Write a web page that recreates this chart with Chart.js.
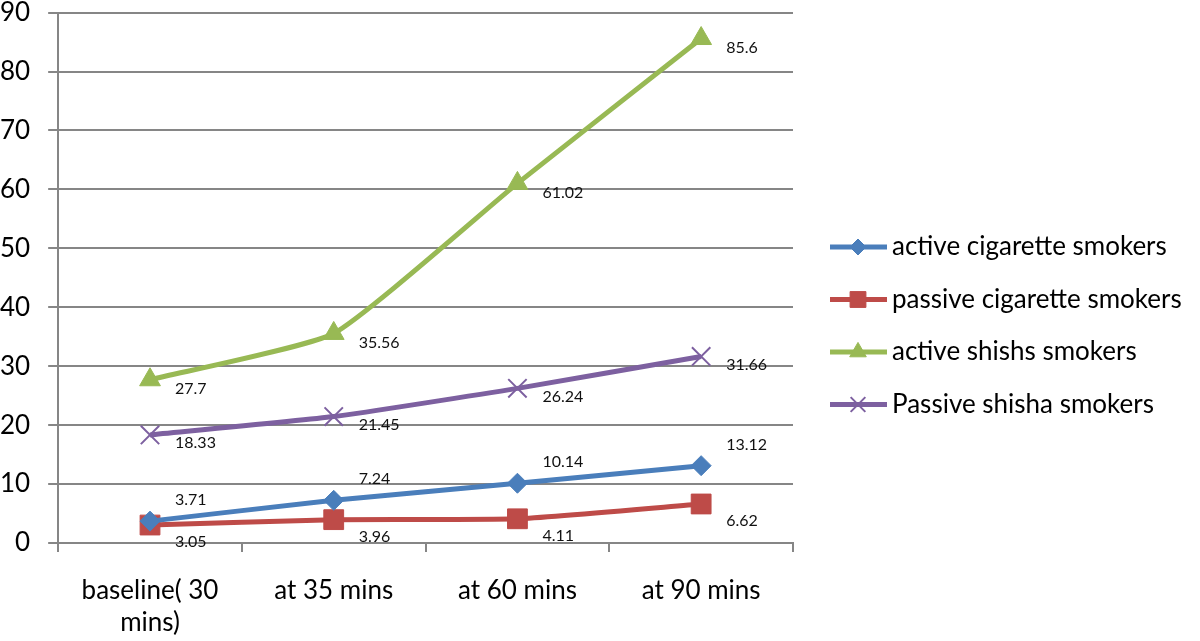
<!DOCTYPE html>
<html>
<head>
<meta charset="utf-8">
<script src="https://cdn.jsdelivr.net/npm/chart.js@4.4.1/dist/chart.umd.min.js"></script>
<style>
  html, body { margin: 0; padding: 0; background: #fff; overflow: hidden; }
  #janela { width: 1200px; height: 641px; position: relative; overflow: hidden; }
  #wrap { position: absolute; left: -18px; top: -21px; width: 1218px; height: 684px; }
</style>
</head>
<body>
<div id="janela"><div id="wrap"><canvas id="grafico"></canvas></div></div>
<script>
const categorias = [['baseline( 30', 'mins)'], 'at 35 mins', 'at 60 mins', 'at 90 mins'];
const ativosCigarro = [3.71, 7.24, 10.14, 13.12];
const passivosCigarro = [3.05, 3.96, 4.11, 6.62];
const ativosShisha = [27.7, 35.56, 61.02, 85.6];
const passivosShisha = [18.33, 21.45, 26.24, 31.66];
const nomesSeries = ['active cigarette smokers', 'passive cigarette smokers', 'active shishs smokers', 'Passive shisha smokers'];

const fonte = 'Lato, "Open Sans", sans-serif';

function serie(label, data, cor, estilo, raio, dy) {
    return {
        label: label,
        data: data,
        borderColor: cor,
        backgroundColor: cor,
        borderWidth: 5,
        pointStyle: estilo,
        pointRadius: raio,
        pointHoverRadius: raio,
        pointBorderWidth: estilo === 'crossRot' ? 2 : 1,
        tension: 0.15,
        labelDy: dy // deslocamento vertical do rótulo
    };
}

// rótulos de dados ao lado de cada ponto
const rotulos = {
    id: 'rotulos',
    afterDatasetsDraw(chart) {
        const ctx = chart.ctx;
        ctx.save();
        ctx.font = '16px ' + fonte;
        ctx.fillStyle = '#111';
        ctx.textAlign = 'left';
        ctx.textBaseline = 'middle';
        chart.data.datasets.forEach((ds, i) => {
            chart.getDatasetMeta(i).data.forEach((pt, j) => {
                ctx.fillText(String(ds.data[j]), pt.x + 25, pt.y + ds.labelDy);
            });
        });
        ctx.restore();
    }
};

// legenda à direita com linha + marcador (coordenadas do canvas deslocado)
const legenda = {
    id: 'legenda',
    afterDraw(chart) {
        const ctx = chart.ctx;
        const x0 = 848, y0 = 268, passo = 52.5;
        ctx.save();
        chart.data.datasets.forEach((ds, i) => {
            const y = y0 + i * passo;
            ctx.strokeStyle = ds.borderColor;
            ctx.lineWidth = 5;
            ctx.beginPath();
            ctx.moveTo(x0, y);
            ctx.lineTo(x0 + 57, y);
            ctx.stroke();
            ctx.fillStyle = ds.backgroundColor;
            ctx.strokeStyle = ds.borderColor;
            ctx.lineWidth = ds.pointBorderWidth;
            Chart.helpers.drawPoint(ctx, {
                pointStyle: ds.pointStyle,
                radius: ds.pointRadius * 0.8,
                rotation: 0,
                borderWidth: ds.pointBorderWidth
            }, x0 + 28, y);
            ctx.fillStyle = '#000';
            ctx.font = '26px ' + fonte;
            ctx.textAlign = 'left';
            ctx.textBaseline = 'middle';
            ctx.fillText(ds.label, x0 + 62, y);
        });
        ctx.restore();
    }
};

const ctx = document.getElementById('grafico').getContext('2d');
const meuGrafico = new Chart(ctx, {
    type: 'line',
    data: {
        labels: categorias,
        datasets: [
            serie(nomesSeries[0], ativosCigarro, '#4A7EBB', 'rectRot', 10, -21),
            serie(nomesSeries[1], passivosCigarro, '#BE4B48', 'rect', 14, 17),
            serie(nomesSeries[2], ativosShisha, '#98B954', 'triangle', 12, 9),
            serie(nomesSeries[3], passivosShisha, '#7D60A0', 'crossRot', 13, 8)
        ]
    },
    options: {
        responsive: true,
        maintainAspectRatio: false,
        animation: false,
        layout: { padding: { top: 0, right: 407, left: 0, bottom: 2 } },
        scales: {
            x: {
                offset: true,
                grid: {
                    offset: true,
                    drawOnChartArea: false,
                    drawTicks: true,
                    tickLength: 9,
                    color: '#868686',
                    lineWidth: 2
                },
                border: { color: '#868686', width: 2 },
                ticks: {
                    color: '#000',
                    font: { family: fonte, size: 26, lineHeight: 1.25 },
                    padding: 22,
                    maxRotation: 0
                }
            },
            y: {
                min: 0,
                max: 90,
                ticks: {
                    stepSize: 10,
                    color: '#000',
                    font: { family: fonte, size: 26 },
                    padding: 18
                },
                grid: {
                    color: '#868686',
                    lineWidth: 2,
                    tickLength: 10
                },
                border: { color: '#868686', width: 2 }
            }
        },
        plugins: {
            legend: { display: false },
            tooltip: { enabled: false }
        }
    },
    plugins: [rotulos, legenda]
});
</script>
</body>
</html>
